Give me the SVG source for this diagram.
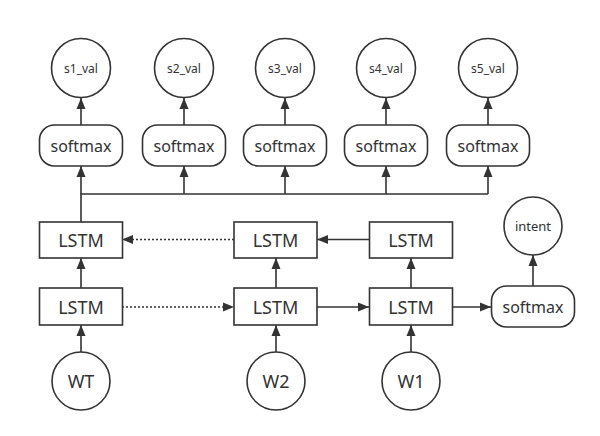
<svg xmlns="http://www.w3.org/2000/svg" width="600" height="436" viewBox="0 0 600 436">
<style>
.n{fill:#fff;stroke:#333;stroke-width:1.6}
.t{font-family:"Noto Sans","Open Sans",sans-serif;fill:#333;text-anchor:middle;dominant-baseline:central}
.c{stroke:#333;stroke-width:1.6;fill:none}
.a{marker-end:url(#ah)}
.d{stroke-dasharray:2 2}
</style>
<defs>
<marker id="ah" markerUnits="userSpaceOnUse" markerWidth="12" markerHeight="10" refX="11" refY="5" orient="auto">
<path d="M0,0.5 L11,5 L0,9.5 z" fill="#333"/>
</marker>
</defs>
<rect width="600" height="436" fill="#fff"/>
<g id="connectors">
<line class="c a" x1="81" y1="125" x2="81" y2="98"/>
<line class="c a" x1="184" y1="125" x2="184" y2="98"/>
<line class="c a" x1="285" y1="125" x2="285" y2="98"/>
<line class="c a" x1="386" y1="125" x2="386" y2="98"/>
<line class="c a" x1="488" y1="125" x2="488" y2="98"/>
<polyline class="c" points="81,222 81,194 488,194"/>
<line class="c a" x1="81" y1="194" x2="81" y2="166"/>
<line class="c a" x1="184" y1="194" x2="184" y2="166"/>
<line class="c a" x1="285" y1="194" x2="285" y2="166"/>
<line class="c a" x1="386" y1="194" x2="386" y2="166"/>
<line class="c a" x1="488" y1="194" x2="488" y2="166"/>
<line class="c a d" x1="234" y1="239.5" x2="122" y2="239.5"/>
<line class="c a d" x1="122" y1="307" x2="234" y2="307"/>
<line class="c a" x1="369" y1="239.5" x2="317" y2="239.5"/>
<line class="c a" x1="317" y1="307" x2="369" y2="307"/>
<line class="c a" x1="453" y1="307" x2="491" y2="307"/>
<line class="c a" x1="81" y1="288" x2="81" y2="258"/>
<line class="c a" x1="276" y1="288" x2="276" y2="258"/>
<line class="c a" x1="411" y1="288" x2="411" y2="258"/>
<line class="c a" x1="81" y1="352" x2="81" y2="325"/>
<line class="c a" x1="276" y1="352" x2="276" y2="325"/>
<line class="c a" x1="411" y1="352" x2="411" y2="325"/>
<line class="c a" x1="533" y1="286" x2="533" y2="255"/>
</g>
<g id="s1_val"><circle class="n" cx="81" cy="68" r="29.5"/><text class="t" x="81" y="68" font-size="12">s1_val</text></g>
<g id="s2_val"><circle class="n" cx="184" cy="68" r="29.5"/><text class="t" x="184" y="68" font-size="12">s2_val</text></g>
<g id="s3_val"><circle class="n" cx="285" cy="68" r="29.5"/><text class="t" x="285" y="68" font-size="12">s3_val</text></g>
<g id="s4_val"><circle class="n" cx="386" cy="68" r="29.5"/><text class="t" x="386" y="68" font-size="12">s4_val</text></g>
<g id="s5_val"><circle class="n" cx="488" cy="68" r="29.5"/><text class="t" x="488" y="68" font-size="12">s5_val</text></g>
<g id="softmax1"><rect class="n" x="39.5" y="125" width="83" height="41" rx="15"/><text class="t" x="81" y="145.5" font-size="16">softmax</text></g>
<g id="softmax2"><rect class="n" x="142.5" y="125" width="83" height="41" rx="15"/><text class="t" x="184" y="145.5" font-size="16">softmax</text></g>
<g id="softmax3"><rect class="n" x="243.5" y="125" width="83" height="41" rx="15"/><text class="t" x="285" y="145.5" font-size="16">softmax</text></g>
<g id="softmax4"><rect class="n" x="344.5" y="125" width="83" height="41" rx="15"/><text class="t" x="386" y="145.5" font-size="16">softmax</text></g>
<g id="softmax5"><rect class="n" x="446.5" y="125" width="83" height="41" rx="15"/><text class="t" x="488" y="145.5" font-size="16">softmax</text></g>
<g id="lstm_top1"><rect class="n" x="39.5" y="222" width="83" height="36"/><text class="t" x="81" y="240" font-size="18">LSTM</text></g>
<g id="lstm_top2"><rect class="n" x="234" y="222" width="83" height="36"/><text class="t" x="275.5" y="240" font-size="18">LSTM</text></g>
<g id="lstm_top3"><rect class="n" x="369.5" y="222" width="83" height="36"/><text class="t" x="411" y="240" font-size="18">LSTM</text></g>
<g id="lstm_bot1"><rect class="n" x="39.5" y="288" width="83" height="37"/><text class="t" x="81" y="306.5" font-size="18">LSTM</text></g>
<g id="lstm_bot2"><rect class="n" x="234" y="288" width="83" height="37"/><text class="t" x="275.5" y="306.5" font-size="18">LSTM</text></g>
<g id="lstm_bot3"><rect class="n" x="369.5" y="288" width="83" height="37"/><text class="t" x="411" y="306.5" font-size="18">LSTM</text></g>
<g id="softmax_intent"><rect class="n" x="491.5" y="286" width="83" height="41" rx="15"/><text class="t" x="533" y="306.5" font-size="16">softmax</text></g>
<g id="intent"><circle class="n" cx="533" cy="226" r="29"/><text class="t" x="533" y="226" font-size="13">intent</text></g>
<g id="WT"><circle class="n" cx="81" cy="381" r="29"/><text class="t" x="81" y="381" font-size="18">WT</text></g>
<g id="W2"><circle class="n" cx="276" cy="381" r="29"/><text class="t" x="276" y="381" font-size="18">W2</text></g>
<g id="W1"><circle class="n" cx="411" cy="381" r="29"/><text class="t" x="411" y="381" font-size="18">W1</text></g>
</svg>
